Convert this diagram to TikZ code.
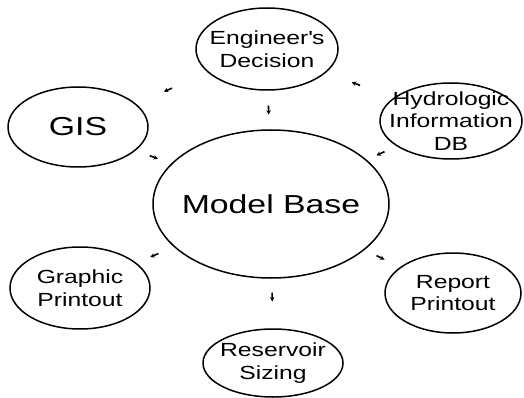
\documentclass[tikz,border=0pt]{standalone}
\usepackage{fontspec}
\setmainfont{Liberation Sans}[FakeStretch=1.3]
\usetikzlibrary{shapes.geometric,arrows.meta,calc}
\tikzset{
  blob/.style={draw, ellipse, line width=1.5pt, inner sep=0pt},
  txt/.style={inner sep=0pt, align=center, font=\fontsize{19}{22.5}\selectfont},
  big/.style={inner sep=0pt, align=center, font=\fontsize{26}{30}\selectfont},
  flow/.style={line width=1.6pt, -{Stealth[length=4.5pt,width=4.5pt]}}
}
\newcommand \flowmark[3]
{
\coordinate (m) at ($(#1)!#3!(#2)$);                  % middle of the mark
\draw[flow] ($(m)!4.5pt!(#1)$) -- ($(m)!4.5pt!(#2)$);
}

\begin{document}
\begin{tikzpicture}[x=1pt, y=-1pt, line join=round]
\useasboundingbox (0,0) rectangle (524,398);
\node[blob, minimum width=236, minimum height=148, label={[big]center:Model Base}] (mb) at (271,204) {};
\node[blob, minimum width=142, minimum height=82, label={[txt]center:Engineer\textquotesingle s\\Decision}] (eng) at (267,49) {};
\node[blob, minimum width=140, minimum height=80, label={[big]center:GIS}] (gis) at (78,127) {};
\node[blob, minimum width=142, minimum height=76, label={[txt]center:Hydrologic\\Information\\DB}] (hyd) at (451,121) {};
\node[blob, minimum width=140, minimum height=82, label={[txt]center:Graphic\\Printout}] (gra) at (80,288) {};
\node[blob, minimum width=136, minimum height=80, label={[txt]center:Report\\Printout}] (rep) at (453,293) {};
\node[blob, minimum width=140, minimum height=68, label={[txt]center:Reservoir\\Sizing}] (res) at (273,363) {};
% inputs
\flowmark{eng}{gis}{0.524}
\flowmark{hyd}{eng}{0.517}
\flowmark{eng}{mb}{0.394}
\flowmark{gis}{mb}{0.393}
\flowmark{hyd}{mb}{0.392}
% outputs
\flowmark{mb}{gra}{0.611}
\flowmark{mb}{rep}{0.602}
\flowmark{mb}{res}{0.585}
\end{tikzpicture}
\end{document}
